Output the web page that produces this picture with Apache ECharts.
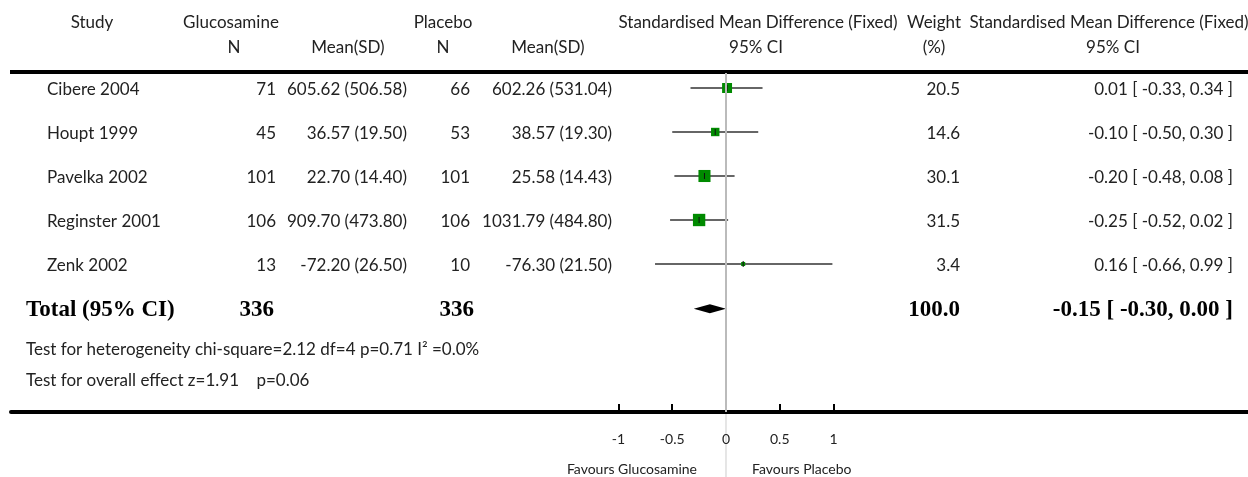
<!DOCTYPE html>
<html>
<head>
	<meta charset="utf-8">
	<title>Forest plot</title>
	<script src="https://cdn.jsdelivr.net/npm/echarts@6/dist/echarts.min.js"></script>
	<style>
		html, body { margin: 0; padding: 0; background: #fff; }
		#forest { width: 1248px; height: 477px; }
	</style>
</head>
<body>
	<div id="forest"></div>
	<script type="text/javascript">
	// study data
	var studies = ['Cibere 2004', 'Houpt 1999', 'Pavelka 2002', 'Reginster 2001', 'Zenk 2002'];
	var glucN = [71, 45, 101, 106, 13];
	var glucMeanSD = ['605.62 (506.58)', '36.57 (19.50)', '22.70 (14.40)', '909.70 (473.80)', '-72.20 (26.50)'];
	var placeboN = [66, 53, 101, 106, 10];
	var placeboMeanSD = ['602.26 (531.04)', '38.57 (19.30)', '25.58 (14.43)', '1031.79 (484.80)', '-76.30 (21.50)'];
	var smd = [0.01, -0.10, -0.20, -0.25, 0.16];
	var ciLow = [-0.33, -0.50, -0.48, -0.52, -0.66];
	var ciHigh = [0.34, 0.30, 0.08, 0.02, 0.99];
	var weights = [20.5, 14.6, 30.1, 31.5, 3.4];

	// pooled
	var totalN = [336, 336];
	var totalWeight = 100.0;
	var totalSmd = -0.15;
	var totalCi = [-0.30, 0.00];
	var totalRow = 5.02;

	var axisTicks = [-1, -0.5, 0, 0.5, 1];

	var FONT = 'Lato';
	var TXT = '#222';

	var chart = echarts.init(document.getElementById('forest'));

	var studyData = studies.map(function (s, i) {
		return [ciLow[i], ciHigh[i], smd[i], weights[i], i];
	});

	chart.setOption({
		animation: false,
		grid: { left: 11, right: 0, top: 73, bottom: 65 },
		xAxis: {
			type: 'value',
			min: -6.651, max: 4.856,
			splitLine: { show: false },
			axisLine: { onZero: false, lineStyle: { color: '#000', width: 4 } },
			axisTick: { customValues: axisTicks, inside: true, length: 8, lineStyle: { color: '#000', width: 2 } },
			axisLabel: {
				customValues: axisTicks,
				margin: 20,
				fontFamily: FONT, fontSize: 14, color: TXT,
				formatter: function (v) { return String(v); }
			}
		},
		yAxis: {
			type: 'value', inverse: true, show: false,
			min: -0.341, max: 7.364
		},
		series: [{
			type: 'custom',
			data: studyData,
			renderItem: function (params, api) {
				var row = api.value(4);
				var a = api.coord([api.value(0), row]);
				var b = api.coord([api.value(1), row]);
				var c = api.coord([api.value(2), row]);
				var s = 2.2 * Math.sqrt(api.value(3));
				return {
					type: 'group',
					children: [
						{ type: 'line', shape: { x1: a[0], y1: a[1], x2: b[0], y2: b[1] },
							style: { stroke: '#333', lineWidth: 1.6 } },
						{ type: 'rect', shape: { x: c[0] - s / 2, y: c[1] - s / 2, width: s, height: s },
							style: { fill: '#008a00' } },
						{ type: 'line', shape: { x1: c[0], y1: c[1] - 3, x2: c[0], y2: c[1] + 3 },
							style: { stroke: '#111', lineWidth: 1 } }
					]
				};
			},
			markLine: {
				silent: true, symbol: 'none',
				label: { show: false },
				lineStyle: { color: '#bbb', width: 2, type: 'solid' },
				data: [{ xAxis: 0 }]
			},
			z: 3
		}, {
			type: 'custom',
			data: [[totalCi[0], totalCi[1], totalSmd, totalRow]],
			renderItem: function (params, api) {
				var row = api.value(3);
				var a = api.coord([api.value(0), row]);
				var b = api.coord([api.value(1), row]);
				var c = api.coord([api.value(2), row]);
				return {
					type: 'polygon',
					shape: { points: [[a[0], a[1]], [c[0], c[1] - 4.5], [b[0], b[1]], [c[0], c[1] + 4.5]] },
					style: { fill: '#000' }
				};
			},
			z: 4
		}]
	});

	// table text laid out on rows from the y scale
	function rowY(r) { return chart.convertToPixel({ yAxisIndex: 0 }, r); }
	function txt(x, y, t, align, opt) {
		opt = opt || {};
		return {
			type: 'text', x: x, y: y, silent: true,
			style: {
				text: t, textAlign: align || 'left', textVerticalAlign: 'middle',
				fontFamily: opt.font || FONT, fontSize: opt.size || 17,
				fontWeight: opt.weight || 'normal', fill: opt.color || TXT
			}
		};
	}
	function fmt2(v) { return v.toFixed(2); }

	var g = [];
	var hy1 = 23, hy2 = 48;
	g.push(txt(92, hy1, 'Study', 'center'));
	g.push(txt(231, hy1, 'Glucosamine', 'center'));
	g.push(txt(443, hy1, 'Placebo', 'center'));
	g.push(txt(758, hy1, 'Standardised Mean Difference (Fixed)', 'center'));
	g.push(txt(934, hy1, 'Weight', 'center'));
	g.push(txt(1109, hy1, 'Standardised Mean Difference (Fixed)', 'center'));
	g.push(txt(234, hy2, 'N', 'center'));
	g.push(txt(348, hy2, 'Mean(SD)', 'center'));
	g.push(txt(443, hy2, 'N', 'center'));
	g.push(txt(548, hy2, 'Mean(SD)', 'center'));
	g.push(txt(756, hy2, '95% CI', 'center'));
	g.push(txt(934, hy2, '(%)', 'center'));
	g.push(txt(1113, hy2, '95% CI', 'center'));

	// top rule
	g.push({ type: 'line', shape: { x1: 10, y1: 72, x2: 1248, y2: 72 }, style: { stroke: '#000', lineWidth: 4 } });

	studies.forEach(function (s, i) {
		var y = rowY(i) + 2;
		g.push(txt(47, y, s, 'left'));
		g.push(txt(276, y, String(glucN[i]), 'right'));
		g.push(txt(407, y, glucMeanSD[i], 'right'));
		g.push(txt(470, y, String(placeboN[i]), 'right'));
		g.push(txt(612, y, placeboMeanSD[i], 'right'));
		g.push(txt(960, y, weights[i].toFixed(1), 'right'));
		g.push(txt(1233, y, fmt2(smd[i]) + ' [ ' + fmt2(ciLow[i]) + ', ' + fmt2(ciHigh[i]) + ' ]', 'right'));
	});

	var ty = rowY(totalRow) + 1;
	var bold = { font: 'Liberation Serif', size: 23, weight: 'bold', color: '#000' };
	g.push(txt(26, ty, 'Total (95% CI)', 'left', bold));
	g.push(txt(274, ty, String(totalN[0]), 'right', bold));
	g.push(txt(474, ty, String(totalN[1]), 'right', bold));
	g.push(txt(960, ty, totalWeight.toFixed(1), 'right', bold));
	g.push(txt(1233, ty, fmt2(totalSmd) + ' [ ' + fmt2(totalCi[0]) + ', ' + fmt2(totalCi[1]) + ' ]', 'right', bold));

	g.push(txt(26, 350, 'Test for heterogeneity chi-square=2.12 df=4 p=0.71 I\u00b2 =0.0%', 'left'));
	g.push(txt(26, 381, 'Test for overall effect z=1.91    p=0.06', 'left'));

	// zero line continued below the axis, light
	var x0 = chart.convertToPixel({ xAxisIndex: 0 }, 0);
	g.push({ type: 'line', shape: { x1: x0, y1: 414, x2: x0, y2: 477 }, style: { stroke: '#ddd', lineWidth: 1.5 } });
	g.push(txt(x0 - 29, 469, 'Favours Glucosamine', 'right', { size: 14 }));
	g.push(txt(x0 + 26, 469, 'Favours Placebo', 'left', { size: 14 }));

	chart.setOption({ graphic: g });
	</script>
</body>
</html>
